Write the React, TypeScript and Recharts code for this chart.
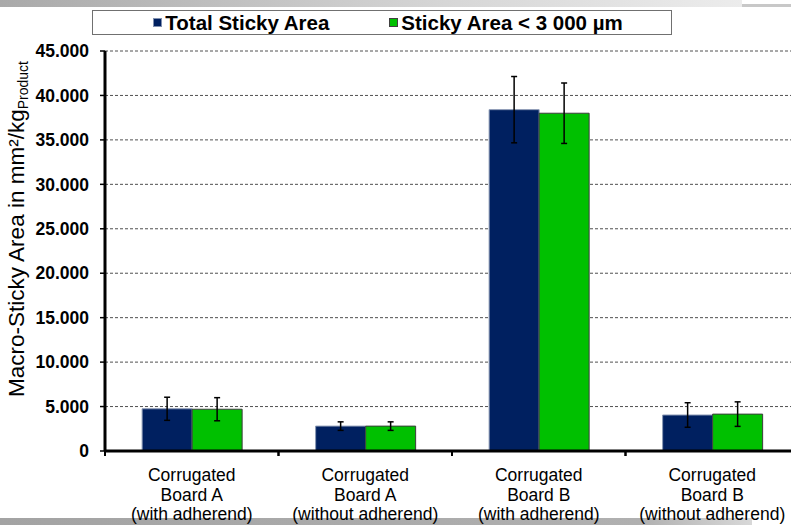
import React from "react";
import { BarChart, Bar, XAxis, YAxis, CartesianGrid, ErrorBar, Legend } from "recharts";

// categories, one entry per board, split into label lines
const boards = [
  ["Corrugated", "Board A", "(with adherend)"],
  ["Corrugated", "Board A", "(without adherend)"],
  ["Corrugated", "Board B", "(with adherend)"],
  ["Corrugated", "Board B", "(without adherend)"],
];

const seriesNames = ["Total Sticky Area", "Sticky Area < 3 000 µm"];

const totalArea = [4750, 2800, 38400, 4050];
const totalErr = [1300, 480, 3730, 1380];
const smallArea = [4700, 2800, 38000, 4150];
const smallErr = [1300, 480, 3400, 1380];

const yTicks = [0, 5000, 10000, 15000, 20000, 25000, 30000, 35000, 40000, 45000];

const data = boards.map((lines, i) => ({
  name: lines.join("\n"),
  total: totalArea[i],
  totalErr: totalErr[i],
  small: smallArea[i],
  smallErr: smallErr[i],
}));

const FONT = '"Liberation Sans", Arial, Helvetica, sans-serif';
const NAVY = "#002060";
const GREEN = "#00C000";

// 45000 -> "45.000"
const fmt = (v: number) =>
  v === 0 ? "0" : String(v).replace(/\B(?=(\d{3})+(?!\d))/g, ".");

const BoardTick = ({ x, y, payload }: any) => {
  const lines = String(payload.value).split("\n");
  const half = payload.offset ?? 0;
  return (
    <g>
      <line x1={x - half} x2={x - half} y1={y} y2={y + 5} stroke="#000" strokeWidth={2} />
      <line x1={x + half} x2={x + half} y1={y} y2={y + 5} stroke="#000" strokeWidth={2} />
      <text x={x} y={y} textAnchor="middle" fontSize={17.5} fill="#000">
        {lines.map((l, i) => (
          <tspan key={i} x={x} dy={i === 0 ? 30 : 19.5}>
            {l}
          </tspan>
        ))}
      </text>
    </g>
  );
};

const YTitle = ({ viewBox }: any) => {
  const bx = 24;
  const cy = viewBox.y + viewBox.height / 2 - 22;
  return (
    <text
      x={0}
      y={0}
      transform={`translate(${bx},${cy}) rotate(-90)`}
      textAnchor="middle"
      fontSize={22.5}
      fill="#000"
    >
      Macro-Sticky Area in mm²/kg
      <tspan fontSize={14} dy={4}>
        Product
      </tspan>
    </text>
  );
};

const LegendBox = ({ payload }: any) => {
  const items = [...(payload || [])].sort(
    (a: any, b: any) => seriesNames.indexOf(a.value) - seriesNames.indexOf(b.value)
  );
  return (
    <div
      style={{
        width: 580,
        height: 25,
        boxSizing: "border-box",
        border: "1px solid #707070",
        background: "#fff",
        display: "flex",
        alignItems: "center",
        justifyContent: "center",
        paddingLeft: 12,
        gap: 60,
        fontFamily: FONT,
        fontWeight: "bold",
        fontSize: 20.5,
        color: "#000",
      }}
    >
      {items.map((p: any) => (
        <div key={p.value} style={{ display: "flex", alignItems: "center", gap: 3 }}>
          <span
            style={{
              display: "inline-block",
              width: 9,
              height: 9,
              background: p.color,
              border: p.color === GREEN ? "1px solid #404040" : "1px solid #8090b0",
              boxSizing: "border-box",
            }}
          />
          <span>{p.value}</span>
        </div>
      ))}
    </div>
  );
};

export default function App() {
  return (
    <div
      style={{
        position: "fixed",
        left: 0,
        top: 0,
        width: 791,
        height: 525,
        overflow: "hidden",
        background: "#fff",
        fontFamily: FONT,
      }}
    >
      {/* slide decoration strips */}
      <div
        style={{
          position: "absolute",
          left: 0,
          top: 0,
          width: 742,
          height: 7,
          background: "linear-gradient(to right, #a9a9a9, #d6d6d6 60%, #ececec)",
        }}
      />
      <div style={{ position: "absolute", left: 742, top: 4, width: 49, height: 3, background: "#c8c8c8" }} />
      <div
        style={{
          position: "absolute",
          left: 0,
          top: 518,
          width: 752,
          height: 7,
          background: "linear-gradient(to right, #a3a3a3, #b0b0b0 85%, #d8d8d8)",
        }}
      />
      <div style={{ position: "absolute", left: 0, top: 0 }}>
        <BarChart
          width={820}
          height={525}
          data={data}
          margin={{ top: 51, right: 21, bottom: 0, left: 0 }}
          barCategoryGap="21.4%"
          barGap={0}
        >
          <CartesianGrid vertical={false} stroke="#505050" strokeDasharray="3 2" strokeWidth={1} />
          <XAxis
            dataKey="name"
            height={74}
            tickSize={0}
            tickMargin={0}
            tickLine={false}
            axisLine={{ stroke: "#000", strokeWidth: 3 }}
            tick={<BoardTick />}
            interval={0}
          />
          <YAxis
            width={105}
            domain={[0, 45000]}
            ticks={yTicks}
            tickFormatter={fmt}
            tickSize={5}
            tickMargin={11}
            axisLine={{ stroke: "#000", strokeWidth: 3 }}
            tickLine={{ stroke: "#000", strokeWidth: 1.5 }}
            tick={{ fill: "#000", fontSize: 17.5, fontWeight: "bold" }}
            label={{ content: <YTitle /> }}
          />
          <Legend
            layout="horizontal"
            verticalAlign="middle"
            align="center"
            wrapperStyle={{ top: 10, left: 92, width: 580, height: 25 }}
            content={<LegendBox />}
          />
          <Bar
            dataKey="total"
            name={seriesNames[0]}
            fill={NAVY}
            stroke="#8a98b4"
            strokeWidth={1}
            isAnimationActive={false}
          >
            <ErrorBar dataKey="totalErr" width={3} stroke="#000" strokeWidth={1.5} />
          </Bar>
          <Bar
            dataKey="small"
            name={seriesNames[1]}
            fill={GREEN}
            stroke="#3c3c3c"
            strokeWidth={1}
            isAnimationActive={false}
          >
            <ErrorBar dataKey="smallErr" width={3} stroke="#000" strokeWidth={1.5} />
          </Bar>
        </BarChart>
      </div>
    </div>
  );
}
